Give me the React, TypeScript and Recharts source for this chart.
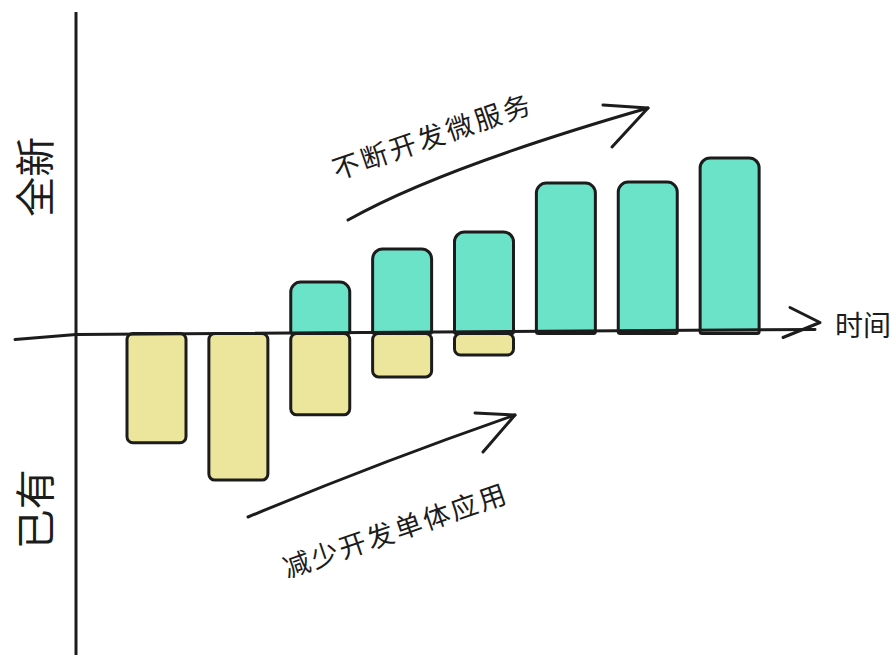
import * as React from "react";
import {
  BarChart,
  Bar,
  XAxis,
  YAxis,
  ReferenceLine,
  ReferenceArea,
  Label,
  Customized,
} from "recharts";

// time steps along the x axis (not labelled in the picture)
const periods = ["T1", "T2", "T3", "T4", "T5", "T6", "T7", "T8"];
// new microservices (above the axis)
const newServices = [0, 0, 16, 26.3, 31.6, 46.8, 47.1, 54.6];
// existing monolith apps (below the axis)
const existingApps = [-34, -45.6, -25.3, -13.5, -6.7, 0, 0, 0];
const yDomain = [-100, 100];

const upperLabel = "全新";
const lowerLabel = "已有";
const timeLabel = "时间";
const growNote = "不断开发微服务";
const shrinkNote = "减少开发单体应用";

const data = periods.map((p, i) => ({
  period: p,
  fresh: newServices[i],
  legacy: existingApps[i],
}));

const FONT = '"Noto Sans CJK SC", "Noto Sans", sans-serif';
const INK = "#1c1c1c";

// horizontal "time" axis drawn on the zero line, with a chevron and label
const TimeAxis = (props: any) => {
  const { x1, y1, x2 } = props;
  const y = y1;
  return (
    <g>
      <path
        d={`M${x1 - 61},${y + 6} L${x1},${y + 1} L${x2},${y - 4}`}
        fill="none"
        stroke={INK}
        strokeWidth={3}
        strokeLinecap="round"
        strokeLinejoin="round"
      />
      <path
        d={`M${x2 - 25},${y - 26} L${x2 + 5},${y - 11} L${x2 - 32},${y + 4}`}
        fill="none"
        stroke={INK}
        strokeWidth={3}
        strokeLinecap="round"
        strokeLinejoin="round"
      />
      <text
        x={x2 + 48}
        y={y - 10}
        textAnchor="middle"
        dominantBaseline="central"
        fontFamily={FONT}
        fontSize={28}
        fill={INK}
      >
        {timeLabel}
      </text>
    </g>
  );
};

// rotated labels left of the vertical axis, centred on each half
const sideLabel = (text: string, shift: number) => (props: any) => {
  const { viewBox } = props;
  const cx = 33;
  const cy = viewBox.y + viewBox.height / 2 + shift;
  return (
    <text
      x={cx}
      y={cy}
      transform={`rotate(-90 ${cx} ${cy})`}
      textAnchor="middle"
      dominantBaseline="central"
      fontFamily={FONT}
      fontSize={40}
      fill={INK}
    >
      {text}
    </text>
  );
};

// the two hand-drawn trend arrows with their notes
const Annotations = () => (
  <g fill="none" stroke={INK} strokeWidth={3} strokeLinecap="round" strokeLinejoin="round">
    <path d="M348,220 Q440,168 648,108" />
    <path d="M603,105 L648,108 L612,147" />
    <path d="M248,517 Q380,462 515,415" />
    <path d="M475,413 L515,415 L483,452" />
    <text
      x={432}
      y={135}
      transform="rotate(-19 432 135)"
      textAnchor="middle"
      dominantBaseline="central"
      fontFamily={FONT}
      fontSize={27}
      letterSpacing={3}
      fill={INK}
      stroke="none"
    >
      {growNote}
    </text>
    <text
      x={395}
      y={529}
      transform="rotate(-19 395 529)"
      textAnchor="middle"
      dominantBaseline="central"
      fontFamily={FONT}
      fontSize={27}
      letterSpacing={2.5}
      fill={INK}
      stroke="none"
    >
      {shrinkNote}
    </text>
  </g>
);

export default function App() {
  return (
    <div
      style={{
        position: "absolute",
        left: 0,
        top: 0,
        width: 895,
        height: 660,
        background: "#fff",
      }}
    >
      <BarChart
        width={895}
        height={660}
        data={data}
        stackOffset="sign"
        barSize={59}
        margin={{ top: 12, right: 80, bottom: 5, left: 75 }}
      >
        <XAxis dataKey="period" hide padding={{ left: 40, right: 44 }} />
        <YAxis
          type="number"
          domain={yDomain}
          width={1}
          tick={false}
          tickLine={false}
          axisLine={{ stroke: INK, strokeWidth: 3 }}
        />
        <ReferenceArea y1={0} y2={100} fill="none" stroke="none">
          <Label content={sideLabel(upperLabel, 4)} />
        </ReferenceArea>
        <ReferenceArea y1={-100} y2={0} fill="none" stroke="none">
          <Label content={sideLabel(lowerLabel, 15)} />
        </ReferenceArea>
        <Bar
          dataKey="legacy"
          stackId="s"
          fill="#ece69d"
          stroke={INK}
          strokeWidth={3}
          radius={6}
          isAnimationActive={false}
        />
        <Bar
          dataKey="fresh"
          stackId="s"
          fill="#6be3c8"
          stroke={INK}
          strokeWidth={3}
          radius={[10, 10, 2, 2]}
          isAnimationActive={false}
        />
        <ReferenceLine y={0} shape={TimeAxis} />
        <Customized component={<Annotations />} />
      </BarChart>
    </div>
  );
}
